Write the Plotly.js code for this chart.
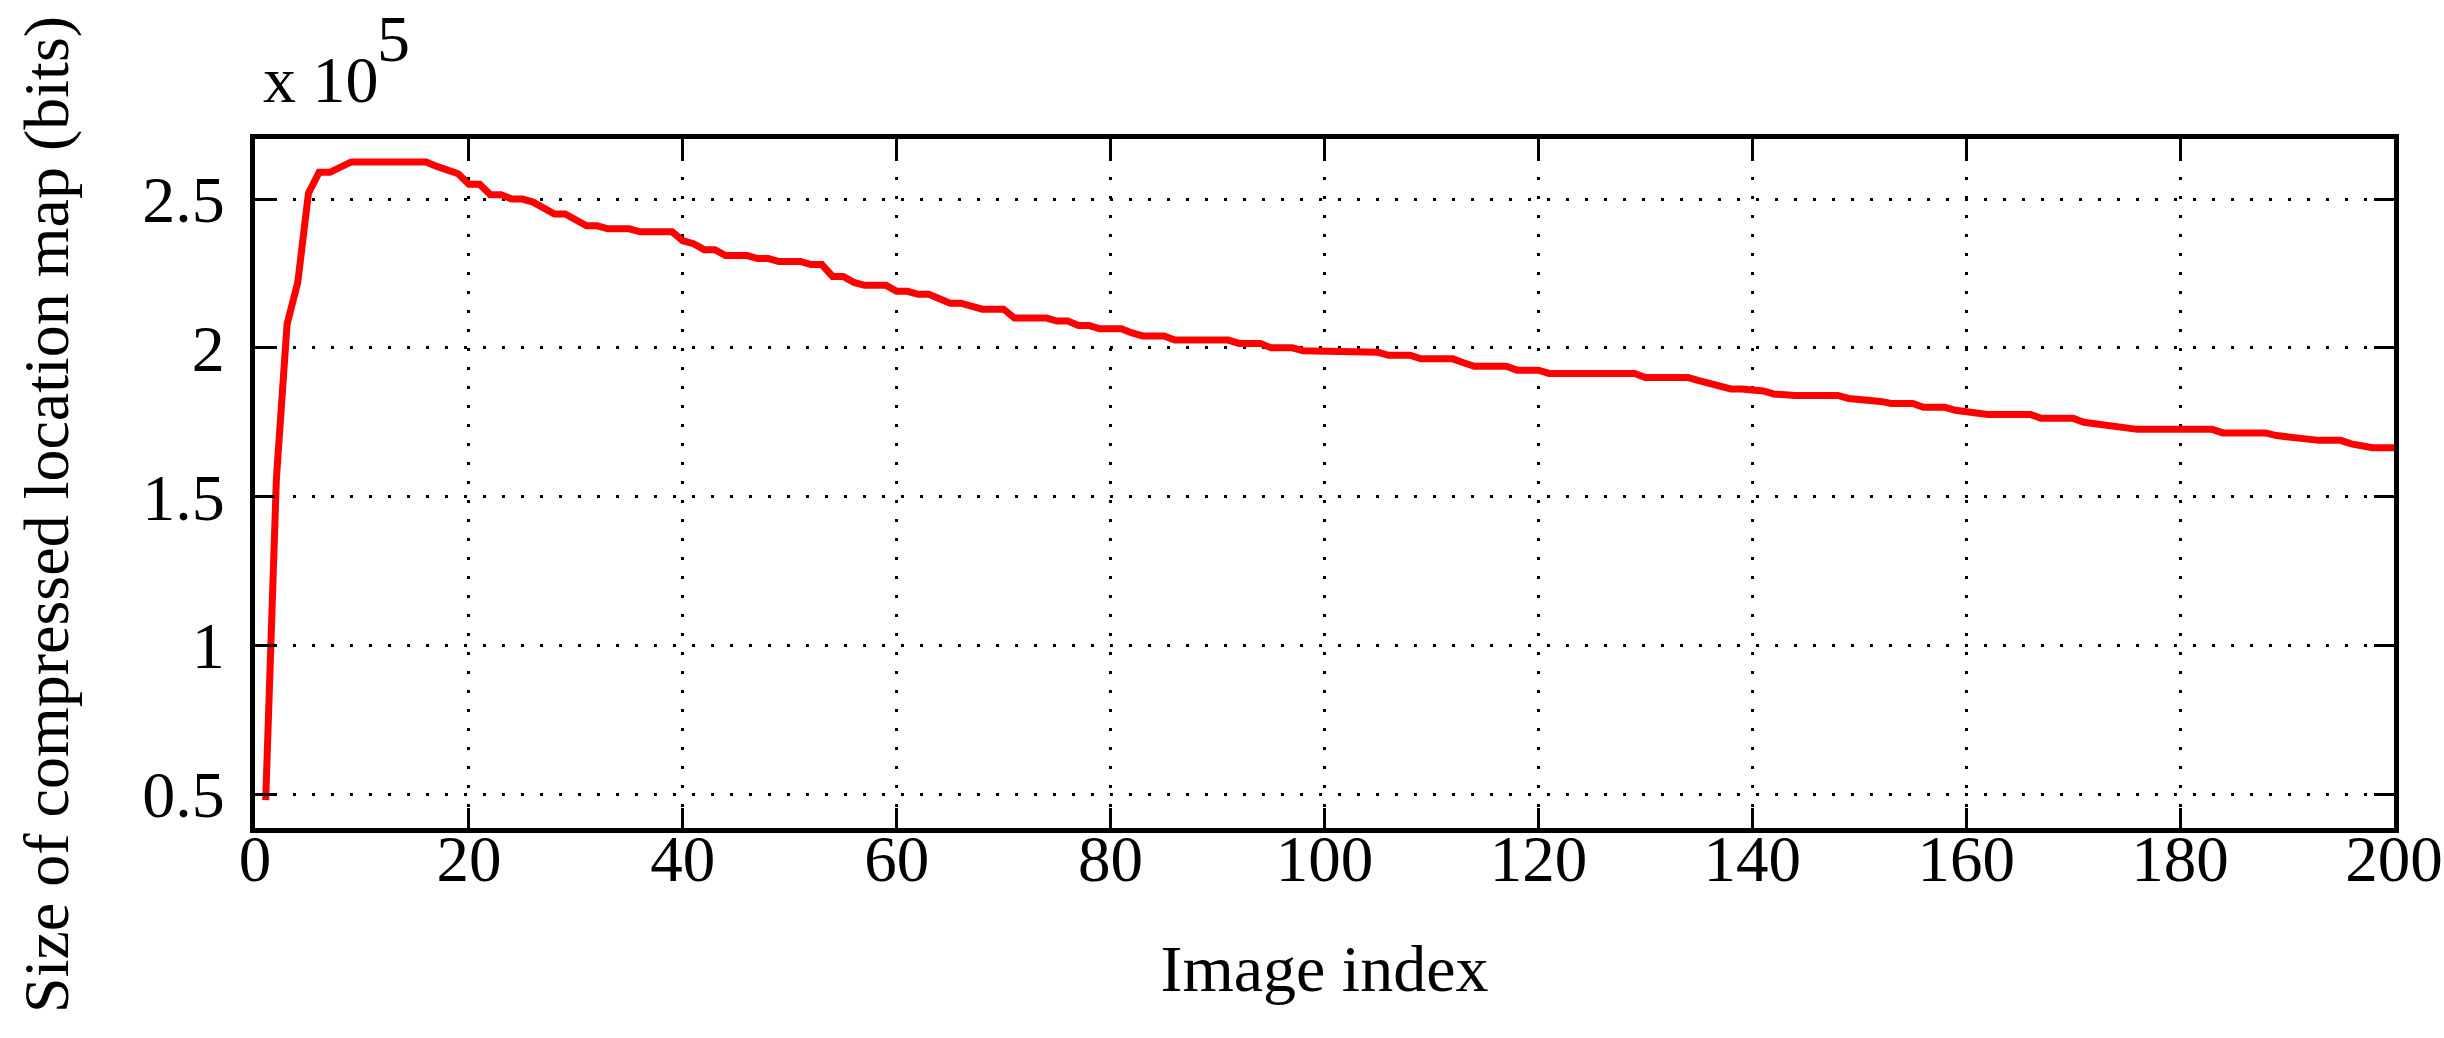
<!DOCTYPE html>
<html>
<head>
<meta charset="utf-8">
<script src="https://cdn.plot.ly/plotly-3.0.1.min.js"></script>
<style>
  html, body { margin: 0; padding: 0; background: #fff; }
  #plot { width: 2444px; height: 1038px; }
</style>
</head>
<body>
<div id="plot"></div>
<script>
// Image index 1..200
let imageIndex = []
for (let i = 1; i <= 200; i++) {
    imageIndex.push(i)
}

// Size of compressed location map, in units of 10^5 bits
let mapSize = [
    0.48, 1.56, 2.08, 2.22, 2.52, 2.59, 2.59, 2.61, 2.625, 2.625,
    2.625, 2.625, 2.625, 2.625, 2.625, 2.625, 2.61, 2.60, 2.585, 2.55,
    2.55, 2.515, 2.515, 2.50, 2.50, 2.49, 2.47, 2.45, 2.45, 2.43,
    2.41, 2.41, 2.40, 2.40, 2.40, 2.39, 2.39, 2.39, 2.39, 2.36,
    2.35, 2.33, 2.33, 2.31, 2.31, 2.31, 2.30, 2.30, 2.29, 2.29,
    2.29, 2.28, 2.28, 2.24, 2.24, 2.22, 2.21, 2.21, 2.21, 2.19,
    2.19, 2.18, 2.18, 2.165, 2.15, 2.15, 2.14, 2.13, 2.13, 2.13,
    2.10, 2.10, 2.10, 2.10, 2.09, 2.09, 2.075, 2.075, 2.064, 2.064,
    2.064, 2.05, 2.04, 2.04, 2.04, 2.026, 2.026, 2.026, 2.026, 2.026,
    2.026, 2.015, 2.015, 2.015, 2.0, 2.0, 2.0, 1.99, 1.99, 1.99,
    1.99, 1.99, 1.99, 1.99, 1.985, 1.975, 1.975, 1.975, 1.963, 1.963,
    1.963, 1.963, 1.95, 1.938, 1.938, 1.938, 1.938, 1.925, 1.925, 1.925,
    1.914, 1.914, 1.914, 1.914, 1.914, 1.914, 1.914, 1.914, 1.914, 1.90,
    1.90, 1.90, 1.90, 1.90, 1.89, 1.88, 1.87, 1.862, 1.862, 1.858,
    1.855, 1.845, 1.84, 1.84, 1.84, 1.84, 1.84, 1.84, 1.83, 1.827,
    1.827, 1.82, 1.813, 1.813, 1.813, 1.80, 1.80, 1.80, 1.79, 1.785,
    1.776, 1.776, 1.776, 1.776, 1.776, 1.776, 1.763, 1.763, 1.763, 1.763,
    1.75, 1.745, 1.739, 1.739, 1.73, 1.726, 1.726, 1.726, 1.726, 1.726,
    1.726, 1.726, 1.726, 1.714, 1.714, 1.714, 1.714, 1.714, 1.705, 1.70,
    1.70, 1.69, 1.689, 1.689, 1.689, 1.677, 1.67, 1.664, 1.664, 1.664
]

let xTicks = [0, 20, 40, 60, 80, 100, 120, 140, 160, 180, 200]
let yTicks = [0.5, 1, 1.5, 2, 2.5]
let yTickText = ['0.5', '1', '1.5', '2', '2.5']

let font = 'Liberation Serif, Times New Roman, serif'

let trace1 = {
    x: imageIndex,
    y: mapSize,
    type: 'scatter',
    mode: 'lines',
    line: { color: '#ff0000', width: 7 },
    showlegend: false
}

let axisStyle = {
    showline: true,
    linecolor: 'black',
    linewidth: 5,
    mirror: 'ticks',
    ticks: 'inside',
    ticklen: 20,
    tickwidth: 3,
    tickcolor: 'black',
    showgrid: true,
    gridcolor: 'black',
    gridwidth: 3,
    griddash: '3px,16px',
    zeroline: false,
    ticklabeloverflow: 'allow',
    tickfont: { family: font, size: 66, color: 'black' }
}

let layout = {
    width: 2444,
    height: 1038,
    margin: { l: 255, r: 50, t: 139, b: 210 },
    paper_bgcolor: 'white',
    plot_bgcolor: 'white',
    xaxis: Object.assign({}, axisStyle, {
        range: [0, 200],
        tickvals: xTicks,
        ticklabelstandoff: -30,
        tickfont: { family: font, size: 65, color: 'black' },
        title: { text: 'Image index', font: { family: font, size: 66, color: 'black' }, standoff: 52 }
    }),
    yaxis: Object.assign({}, axisStyle, {
        range: [0.386, 2.702],
        tickvals: yTicks,
        ticktext: yTickText,
        ticklabelstandoff: 12
    }),
    annotations: [
        {
            text: 'Size of compressed location map (bits)',
            textangle: -90,
            xref: 'paper', yref: 'paper',
            x: -0.0975, y: 0.455,
            xanchor: 'center', yanchor: 'middle',
            showarrow: false,
            font: { family: font, size: 64, color: 'black' }
        },
        {
            text: 'x 10',
            xref: 'paper', yref: 'paper',
            x: 0.003, y: 1.03,
            xanchor: 'left', yanchor: 'bottom',
            showarrow: false,
            font: { family: font, size: 66, color: 'black' }
        },
        {
            text: '5',
            xref: 'paper', yref: 'paper',
            x: 0.056, y: 1.09,
            xanchor: 'left', yanchor: 'bottom',
            showarrow: false,
            font: { family: font, size: 66, color: 'black' }
        }
    ]
}

Plotly.newPlot('plot', [trace1], layout, { staticPlot: true })
</script>
</body>
</html>
